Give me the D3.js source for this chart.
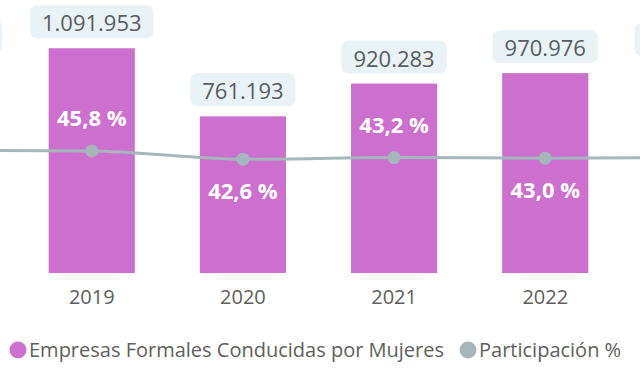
<!DOCTYPE html>
<html>
<head>
<meta charset="utf-8">
<script src="https://cdn.jsdelivr.net/npm/d3@7"></script>
<style>
  body { margin: 0; background: #fff; }
  svg { display: block; font-family: "Segoe UI", "Open Sans", sans-serif; }
</style>
</head>
<body>
<div id="chart"></div>
<script>
// years (2018 and 2023 sit mostly outside the visible area)
var years = ["2018", "2019", "2020", "2021", "2022", "2023"];
var empresas = [1020000, 1091953, 761193, 920283, 970976, 1005000];
var participacion = [46.0, 45.8, 42.6, 43.2, 43.0, 43.2];
var legendLabels = ["Empresas Formales Conducidas por Mujeres", "Participación %"];

var fmtNum = function(v){ return d3.format(",")(v).replace(/,/g, "."); };
var fmtPct = function(v){ return d3.format(".1f")(v).replace(".", ",") + " %"; };

var width = 640, height = 374;
var barColor = "#cd6fce", lineColor = "#a5b6bc";

var svg = d3.select("#chart").append("svg")
  .attr("width", width)
  .attr("height", height);

// Scales
var x = d3.scaleBand()
  .domain(years)
  .range([-135, 772])
  .paddingInner(0.43)
  .paddingOuter(0.215);

var y = d3.scaleLinear()
  .domain([0, 1200000])
  .range([273, 26]);

var yPct = d3.scaleLinear()
  .domain([0, 100])
  .range([269.5, 10.5]);

// Bars
svg.selectAll(".bar")
  .data(years)
  .enter().append("rect")
  .attr("class", "bar")
  .attr("x", function(d){ return x(d); })
  .attr("y", function(d, i){ return y(empresas[i]); })
  .attr("width", x.bandwidth())
  .attr("height", function(d, i){ return y(0) - y(empresas[i]); })
  .attr("fill", barColor);

// Value labels in rounded boxes
var valueLabels = svg.selectAll(".val")
  .data(years)
  .enter().append("g")
  .attr("class", "val");

valueLabels.append("text")
  .attr("x", function(d){ return x(d) + x.bandwidth() / 2; })
  .attr("y", function(d, i){ return y(empresas[i]) - 17; })
  .attr("text-anchor", "middle")
  .attr("font-size", 22)
  .attr("fill", "#595c60")
  .text(function(d, i){ return fmtNum(empresas[i]); });

valueLabels.each(function(){
  var g = d3.select(this);
  var bb = g.select("text").node().getBBox();
  g.insert("rect", "text")
    .attr("x", bb.x - 12)
    .attr("y", bb.y - 2)
    .attr("width", bb.width + 24)
    .attr("height", bb.height + 3)
    .attr("rx", 7)
    .attr("fill", "#e9f2f6");
});

// Line
var line = d3.line()
  .x(function(d){ return x(d) + x.bandwidth() / 2; })
  .y(function(d, i){ return yPct(participacion[i]); })
  .curve(d3.curveMonotoneX);

svg.append("path")
  .datum(years)
  .attr("d", line)
  .attr("fill", "none")
  .attr("stroke", lineColor)
  .attr("stroke-width", 3);

svg.selectAll(".dot")
  .data(years)
  .enter().append("circle")
  .attr("cx", function(d){ return x(d) + x.bandwidth() / 2; })
  .attr("cy", function(d, i){ return yPct(participacion[i]); })
  .attr("r", 6.5)
  .attr("fill", lineColor);

// Percent labels, alternating above / below the line
svg.selectAll(".pct")
  .data(years)
  .enter().append("text")
  .attr("x", function(d){ return x(d) + x.bandwidth() / 2; })
  .attr("y", function(d, i){
    var cy = yPct(participacion[i]);
    return i % 2 === 1 ? cy - 25 : cy + 40;
  })
  .attr("text-anchor", "middle")
  .attr("font-size", 22)
  .attr("font-weight", "bold")
  .attr("fill", "#fff")
  .text(function(d, i){ return fmtPct(participacion[i]); });

// X axis (labels only)
var xAxis = d3.axisBottom(x).tickSize(0).tickPadding(17);
var gx = svg.append("g")
  .attr("transform", "translate(0,273)")
  .call(xAxis);
gx.select(".domain").remove();
gx.selectAll("text")
  .attr("font-size", 20)
  .attr("font-family", "\"Segoe UI\", \"Open Sans\", sans-serif")
  .attr("fill", "#605e5c");

// Legend
var legend = svg.append("g").attr("transform", "translate(0,350)");
var lx = 10;
[barColor, lineColor].forEach(function(c, i){
  legend.append("circle")
    .attr("cx", lx + 8)
    .attr("cy", 0)
    .attr("r", 8.5)
    .attr("fill", c);
  var t = legend.append("text")
    .attr("x", lx + 19)
    .attr("y", 7)
    .attr("font-size", 20)
    .attr("fill", "#605e5c")
    .text(legendLabels[i]);
  lx += 19 + t.node().getComputedTextLength() + 16;
});
</script>
</body>
</html>
